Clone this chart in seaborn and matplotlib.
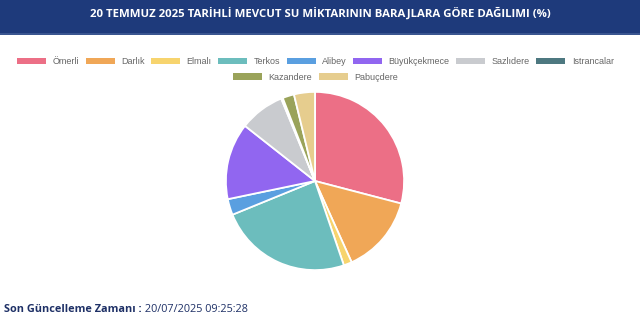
import matplotlib
matplotlib.use("Agg")
import matplotlib.pyplot as plt
import seaborn as sns
from matplotlib.patches import Rectangle, Patch

sns.set_style("white")
plt.rcParams['font.family'] = ['Liberation Sans', 'DejaVu Sans']

title = "20 TEMMUZ 2025 TARİHLİ MEVCUT SU MİKTARININ BARAJLARA GÖRE DAĞILIMI (%)"
dams = ["Ömerli", "Darlık", "Elmalı", "Terkos", "Alibey", "Büyükçekmece",
        "Sazlıdere", "Istrancalar", "Kazandere", "Pabuçdere"]
shares = [29.1, 14.2, 1.5, 24.1, 2.9, 13.9, 8.2, 0.3, 2.1, 3.8]
colors = ["#EC6F86", "#F0A757", "#F7D46E", "#6CBDBD", "#5A9FE0", "#9166F0",
          "#C9CBCF", "#4D7880", "#9AA35A", "#E6CD8E"]
update_label = "Son Güncelleme Zamanı :"
update_time = " 20/07/2025 09:25:28"

W, H = 640, 328
fig = plt.figure(figsize=(W / 100, H / 100), dpi=100)
fig.patch.set_facecolor("white")

# title bar
fig.patches.append(Rectangle((0, 1 - 33 / H), 1, 33 / H, transform=fig.transFigure,
                             facecolor="#1E3A7B", edgecolor="none", zorder=0))
fig.patches.append(Rectangle((0, 1 - 34.5 / H), 1, 1.5 / H, transform=fig.transFigure,
                             facecolor="#3A5590", edgecolor="none", zorder=0))
fig.text(0.5, 1 - 14 / H, title, ha="center", va="center", color="white",
         fontsize=8.2, fontweight="bold", family=["Open Sans", "DejaVu Sans"])

# pie
cx, cy, r = 315, 181, 90
ax = fig.add_axes([(cx - r) / W, (H - cy - r) / H, 2 * r / W, 2 * r / H])
palette = sns.color_palette(colors)
ax.pie(shares, colors=palette, startangle=90, counterclock=False,
       wedgeprops=dict(edgecolor="white", linewidth=1.3))
ax.set_xlim(-1.01, 1.01)
ax.set_ylim(-1.01, 1.01)
ax.set_aspect("equal")
ax.axis("off")

# legends
handles = [Patch(facecolor=c, edgecolor="none") for c in palette]
leg_kw = dict(frameon=False, fontsize=6.5, handlelength=3.2, handleheight=0.75,
              handletextpad=0.7, columnspacing=0.75, labelcolor="#666666",
              borderaxespad=0, borderpad=0)
fig.legend(handles[:8], dams[:8], ncol=8, loc="center",
           bbox_to_anchor=(315.5 / W, 1 - 61.5 / H), **leg_kw)
fig.legend(handles[8:], dams[8:], ncol=2, loc="center",
           bbox_to_anchor=(315.5 / W, 1 - 77 / H), **leg_kw)

# footer
t1 = fig.text(4 / W, 1 - 310 / H, update_label, ha="left", va="center",
              color="#1E3066", fontsize=7.8, fontweight="bold",
              family=["Open Sans", "DejaVu Sans"])
fig.canvas.draw()
bb = t1.get_window_extent()
fig.text(bb.x1 / W, 1 - 310 / H, update_time, ha="left", va="center",
         color="#1E3066", fontsize=7.8, family=["Open Sans", "DejaVu Sans"])

fig.savefig("out.png", dpi=100, facecolor="white")
